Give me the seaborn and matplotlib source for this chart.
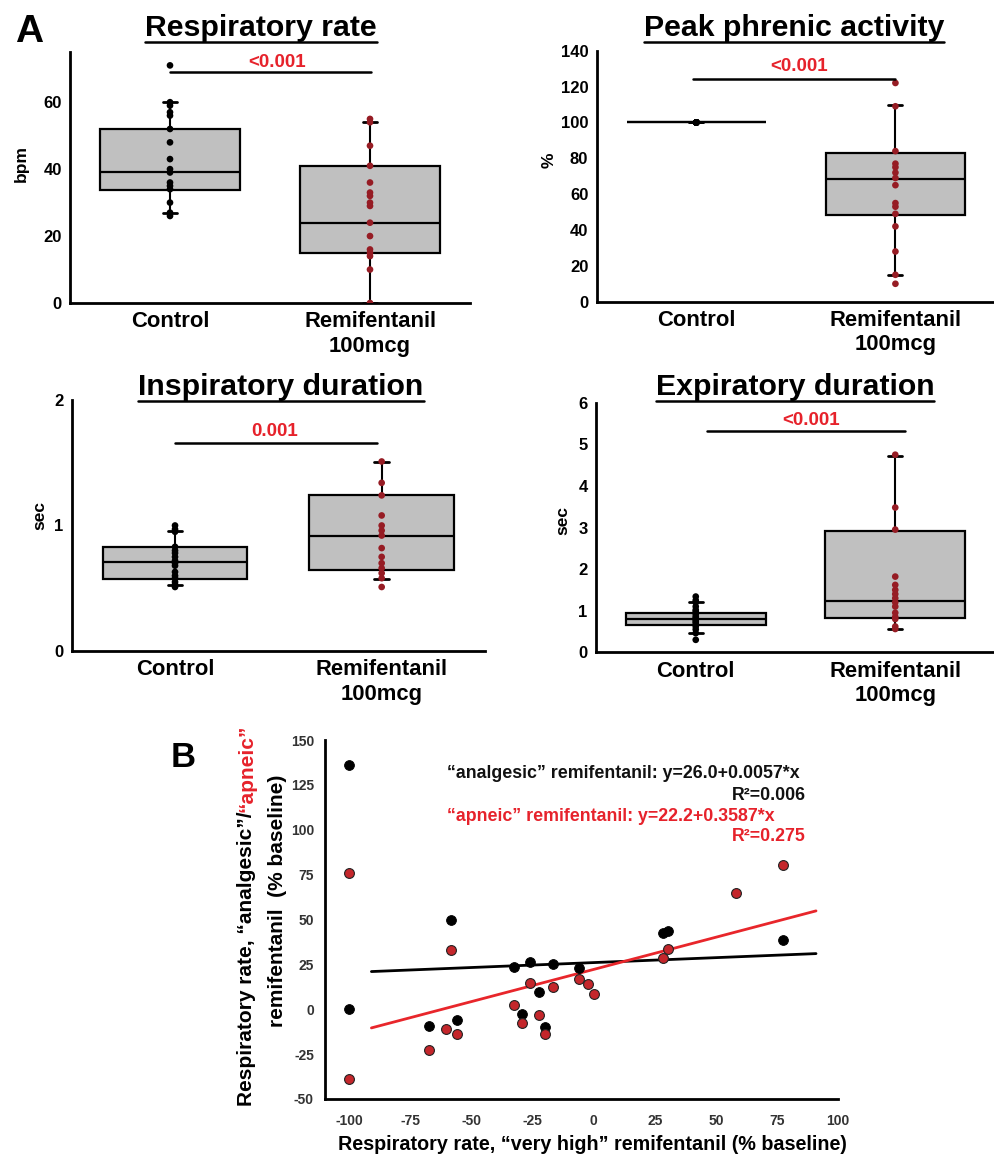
import numpy as np
import pandas as pd
import matplotlib
matplotlib.use('Agg')
import matplotlib.pyplot as plt
import seaborn as sns
from matplotlib.lines import Line2D

sns.set_style('white')
plt.rcParams['font.family'] = ['Liberation Sans', 'DejaVu Sans']
plt.rcParams['font.weight'] = 'bold'
plt.rcParams['axes.labelweight'] = 'bold'
plt.rcParams['text.color'] = 'black'
plt.rcParams['axes.labelcolor'] = 'black'
plt.rcParams['xtick.color'] = 'black'
plt.rcParams['ytick.color'] = 'black'
plt.rcParams['axes.unicode_minus'] = False

# ---------------- data ----------------
groups = ['Control', 'Remifentanil\n100mcg']

# Respiratory rate (bpm)
resp_rate_control = [71, 60, 59, 57, 56, 52, 48, 43, 40, 39, 36, 35, 34, 30, 27, 26]
resp_rate_remi = [55, 54, 47, 41, 36, 33, 32, 30, 29, 24, 20, 16, 15, 14, 10, 0]
# box stats: whisker low, q1, median, q3, whisker high
resp_rate_box_control = [27, 33.7, 39, 52, 60]
resp_rate_box_remi = [0, 15, 24, 41, 54]

# Peak phrenic activity (%)
phrenic_control = [100, 100, 100, 100, 100, 100, 100, 100, 100, 100, 100, 100, 100, 100, 100, 100]
phrenic_remi = [122, 109, 84, 77, 75, 72, 69, 65, 55, 53, 49, 42, 28, 15, 10]
phrenic_box_control = [100, 100, 100, 100, 100]
phrenic_box_remi = [14.7, 48.4, 68.4, 82.8, 109.5]

# Inspiratory duration (sec)
insp_control = [1.0, 0.97, 0.95, 0.83, 0.80, 0.78, 0.75, 0.72, 0.70, 0.68, 0.63, 0.60, 0.58, 0.55, 0.53, 0.51]
insp_remi = [1.51, 1.34, 1.24, 1.08, 1.0, 0.96, 0.92, 0.82, 0.75, 0.70, 0.66, 0.62, 0.58, 0.51]
insp_box_control = [0.523, 0.571, 0.709, 0.826, 0.956]
insp_box_remi = [0.571, 0.645, 0.919, 1.24, 1.503]

# Expiratory duration (sec)
exp_control = [1.34, 1.25, 1.20, 1.10, 1.02, 0.98, 0.92, 0.86, 0.82, 0.78, 0.74, 0.70, 0.62, 0.55, 0.46, 0.30]
exp_remi = [4.75, 3.48, 2.95, 1.82, 1.62, 1.50, 1.40, 1.30, 1.20, 1.10, 0.95, 0.85, 0.80, 0.62, 0.56]
exp_box_control = [0.46, 0.66, 0.81, 0.95, 1.2]
exp_box_remi = [0.56, 0.82, 1.24, 2.92, 4.72]

# p-values and significance bar (x start, x end, y)
p_labels = ['<0.001', '<0.001', '0.001', '<0.001']
sig_bars = [(0.0, 1.005, 68.9), (-0.015, 1.0, 124), (0.0, 0.977, 1.66), (0.056, 1.05, 5.33)]
p_label_pos = [(0.533, 72), (0.518, 131), (0.484, 1.747), (0.579, 5.58)]

# Panel B
analgesic_x = [-100, -100, -58.3, -67.5, -56, -32.5, -25.9, -16.5, -22.6, -29.2, -20, -5.9, 28.4, 30.6, 77.6]
analgesic_y = [136, 0, 49.7, -9.5, -5.8, 23.7, 26.1, 25, 9.5, -2.5, -9.9, 23.2, 42.3, 43.6, 38.4]
apneic_x = [-100, -100, -58.3, -67.5, -60.5, -56, -32.5, -29.2, -25.9, -22.6, -20, -16.5, -5.9, -2.4, 0.3,
            28.4, 30.6, 58.1, 77.6]
apneic_y = [76.1, -38.7, 33, -22.8, -10.8, -13.9, 2.2, -7.4, 14.8, -3.2, -13.6, 12.6, 17, 14.3, 8.4,
            28.8, 33.4, 64.6, 80.2]
fit_x = [-91, 91]
analgesic_fit_y = [21.0, 31.0]
apneic_fit_y = [-10.4, 54.8]

# ---------------- style ----------------
W, H = 995, 1155
fig = plt.figure(figsize=(W / 100, H / 100), dpi=100)
RED_TXT = '#e6222b'
DARK_RED = '#961c24'
PT_RED = '#c4262b'
BOX_GRAY = '#c0c0c0'


def rect(l, r, b, t):
    return [l / W, 1 - b / H, (r - l) / W, (b - t) / H]


def fx(x):
    return x / W


def fy(y):
    return 1 - y / H


panels = [
    dict(rect=rect(70, 470, 303, 52), c=resp_rate_control, r=resp_rate_remi,
         bc=resp_rate_box_control, br=resp_rate_box_remi, ylim=(0, 75), yticks=[0, 20, 40, 60],
         ylabel='bpm', ylab_pos=(21, 163), title='Respiratory rate', tpos=(261, 36, 42)),
    dict(rect=rect(596.7, 995, 301.7, 50.7), c=phrenic_control, r=phrenic_remi,
         bc=phrenic_box_control, br=phrenic_box_remi, ylim=(0, 140), yticks=list(range(0, 141, 20)),
         ylabel='%', ylab_pos=(549, 160), title='Peak phrenic activity', tpos=(794, 36, 42)),
    dict(rect=rect(71.7, 485, 651, 400), c=insp_control, r=insp_remi,
         bc=insp_box_control, br=insp_box_remi, ylim=(0, 2), yticks=[0, 1, 2],
         ylabel='sec', ylab_pos=(40, 515), title='Inspiratory duration', tpos=(281, 395, 401)),
    dict(rect=rect(596, 995, 652.3, 402.7), c=exp_control, r=exp_remi,
         bc=exp_box_control, br=exp_box_remi, ylim=(0, 6), yticks=list(range(0, 7)),
         ylabel='sec', ylab_pos=(563, 520), title='Expiratory duration', tpos=(795, 395, 401)),
]

titles = []
for i, p in enumerate(panels):
    ax = fig.add_axes(p['rect'])
    df = pd.DataFrame({'group': [groups[0]] * len(p['c']) + [groups[1]] * len(p['r']),
                       'value': p['c'] + p['r']})
    stats = [dict(whislo=b[0], q1=b[1], med=b[2], q3=b[3], whishi=b[4], fliers=[])
             for b in (p['bc'], p['br'])]
    ax.bxp(stats, positions=[0, 1], widths=0.7, patch_artist=True, showfliers=False,
           manage_ticks=False, capwidths=0.07, zorder=2,
           boxprops=dict(facecolor=BOX_GRAY, edgecolor='black', linewidth=1.6),
           medianprops=dict(color='black', linewidth=1.6),
           whiskerprops=dict(color='black', linewidth=1.5),
           capprops=dict(color='black', linewidth=2.0))
    sns.stripplot(data=df, x='group', y='value', hue='group', order=groups, hue_order=groups,
                  palette=['black', DARK_RED], jitter=False, size=4.8, linewidth=0,
                  ax=ax, legend=False, zorder=3)
    ax.set_xlim(-0.5, 1.5)
    ax.set_ylim(*p['ylim'])
    ax.set_yticks(p['yticks'])
    ax.set_xticks([0, 1])
    ax.set_xticklabels(groups, fontsize=15.8, fontweight='bold')
    ax.set_xlabel('')
    ax.set_ylabel('')
    for lab in ax.get_yticklabels():
        lab.set_fontsize(12)
        lab.set_fontweight('bold')
    ax.tick_params(axis='x', length=0, pad=6)
    ax.tick_params(axis='y', direction='out', length=4, width=1.5, pad=2, color='black')
    for s in ['top', 'right']:
        ax.spines[s].set_visible(False)
    for s in ['left', 'bottom']:
        ax.spines[s].set_linewidth(2.0)
        ax.spines[s].set_color('black')
    x0, x1, yb = sig_bars[i]
    ax.plot([x0, x1], [yb, yb], color='black', lw=1.8, clip_on=False, zorder=4)
    lx, ly = p_label_pos[i]
    ax.text(lx, ly, p_labels[i], color=RED_TXT, ha='center', va='center', fontsize=13.5,
            fontweight='bold', clip_on=False)
    fig.text(fx(p['ylab_pos'][0]), fy(p['ylab_pos'][1]), p['ylabel'], rotation=90,
             ha='center', va='center', fontsize=12.5, fontweight='bold')
    cx, base, uy = p['tpos']
    t = fig.text(fx(cx), fy(base), p['title'], ha='center', va='baseline', fontsize=21.8,
                 fontweight='bold')
    titles.append((t, uy))

fig.text(fx(29), fy(41.7), 'A', ha='center', va='baseline', fontsize=28, fontweight='bold')
fig.text(fx(183), fy(766.7), 'B', ha='center', va='baseline', fontsize=25, fontweight='bold')

# ---------------- panel B ----------------
axb = fig.add_axes(rect(325, 838, 1099, 740))
sns.lineplot(x=fit_x, y=analgesic_fit_y, color='black', lw=2.0, ax=axb, zorder=2)
sns.lineplot(x=fit_x, y=apneic_fit_y, color='#e8262b', lw=2.0, ax=axb, zorder=2.5)
sns.scatterplot(x=analgesic_x, y=analgesic_y, color='black', edgecolor='black', s=50,
                linewidth=0.6, ax=axb, zorder=3)
sns.scatterplot(x=apneic_x, y=apneic_y, color=PT_RED, edgecolor='#222222', s=50,
                linewidth=0.8, ax=axb, zorder=3.5)
axb.set_xlim(-110, 100)
axb.set_ylim(-50, 150)
axb.set_xticks(list(range(-100, 101, 25)))
axb.set_yticks(list(range(-50, 151, 25)))
for s in ['top', 'right']:
    axb.spines[s].set_visible(False)
for s in ['left', 'bottom']:
    axb.spines[s].set_linewidth(2.0)
    axb.spines[s].set_color('black')
axb.tick_params(axis='both', direction='out', length=5, width=1.5, color='black',
                labelsize=10, labelcolor='#333333')
axb.tick_params(axis='x', pad=6)
axb.tick_params(axis='y', pad=3)
for lab in axb.get_xticklabels() + axb.get_yticklabels():
    lab.set_fontweight('bold')

fig.text(fx(592), fy(1145), 'Respiratory rate, \u201cvery high\u201d remifentanil (% baseline)',
         ha='center', va='center', fontsize=14.2, fontweight='bold')

fig.text(fx(800), fy(774), '\u201canalgesic\u201d remifentanil: y=26.0+0.0057*x', ha='right',
         va='center', fontsize=12.8, fontweight='bold', color='#111111')
fig.text(fx(806), fy(795), 'R\u00b2=0.006', ha='right', va='center', fontsize=12.8,
         fontweight='bold', color='#111111')
fig.text(fx(775), fy(816.7), '\u201capneic\u201d remifentanil: y=22.2+0.3587*x', ha='right',
         va='center', fontsize=12.8, fontweight='bold', color=RED_TXT)
fig.text(fx(806), fy(836.7), 'R\u00b2=0.275', ha='right', va='center', fontsize=12.8,
         fontweight='bold', color=RED_TXT)

yl1 = fig.text(fx(247), 0.5, 'Respiratory rate, \u201canalgesic\u201d/', rotation=90, ha='center',
               va='bottom', fontsize=15, fontweight='bold', color='black')
yl2 = fig.text(fx(247), 0.5, '\u201capneic\u201d', rotation=90, ha='center', va='bottom',
               fontsize=15, fontweight='bold', color=RED_TXT)
fig.text(fx(278), fy(901), 'remifentanil  (% baseline)', rotation=90, ha='center', va='center',
         fontsize=15, fontweight='bold')

# ---------------- layout fixes needing text extents ----------------
fig.canvas.draw()
r = fig.canvas.get_renderer()
for t, uy in titles:
    bb = t.get_window_extent(r)
    fig.add_artist(Line2D([bb.x0 / W, bb.x1 / W], [fy(uy), fy(uy)], transform=fig.transFigure,
                          color='black', lw=1.8))
h1 = yl1.get_window_extent(r).height
h2 = yl2.get_window_extent(r).height
center = H - 915.5
b1 = center - (h1 + h2) / 2
yl1.set_y(b1 / H)
yl2.set_y((b1 + h1) / H)

fig.savefig('out.png', dpi=100)
